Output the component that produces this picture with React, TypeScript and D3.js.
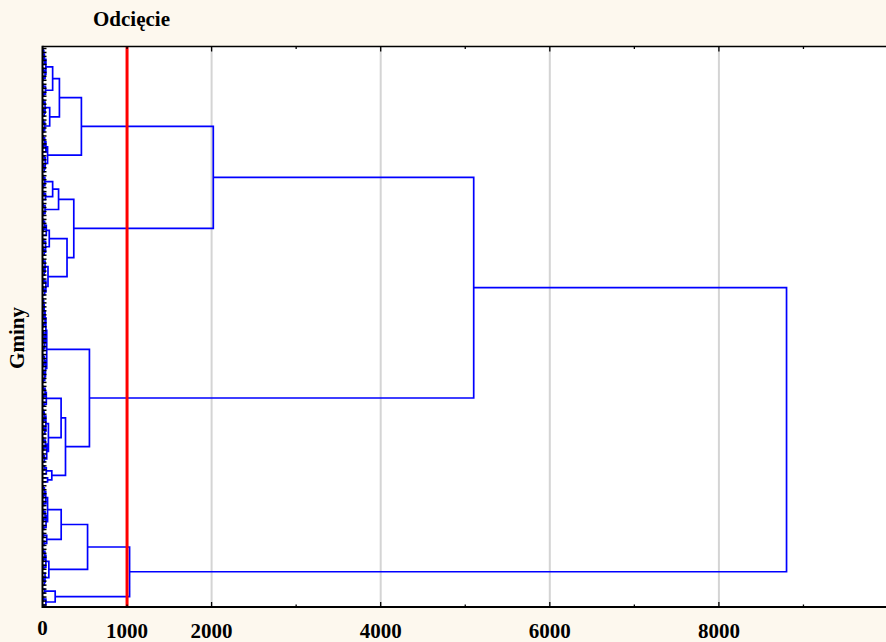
import * as d3 from 'd3';
import React from 'react';

const W = 886;
const H = 642;

// merge heights between neighbouring leaves inside each low-level group (top to bottom)
const g1 = [8, 15, 6, 22, 40, 12, 30, 9];
const g2 = [10, 35, 14];
const g3 = [12, 30, 7, 20, 85, 10, 26, 15];
const g4 = [9, 25, 14, 40, 60, 18, 32, 8, 20];
const b1a = [12, 28, 10];
const b1b = [15, 35];
const b2b = [8, 30, 12];
const c1 = [10, 24, 8, 45, 80, 14, 36, 9, 20];
const c2 = [7, 30, 12, 20, 65, 16, 40, 10, 25];
const d1 = [6, 14, 8, 20, 10, 30, 12, 40, 9, 18, 7, 25, 11];
const d2 = [8, 22, 10, 35, 12, 26, 9];
const p1 = [10, 30, 14, 45, 18];
const p2 = [9, 20, 12, 40, 15, 28, 70, 11, 33, 14, 50, 8, 22];
const q = [20, 45, 110, 60];
const e1 = [8, 22, 10, 38, 14, 60, 12, 30, 9, 42, 16];
const e2 = [12, 50, 18];
const e3 = [10, 28, 12, 40, 15, 75, 30, 8, 22];
const f1 = [25];
const f2 = [12, 40];

const groups = [g1, g2, g3, g4, b1a, b1b, b2b, c1, c2, d1, d2, p1, p2, q, e1, e2, e3, f1, f2];
// linkage distances where neighbouring groups join
const joins = [120, 200, 460, 2020, 120, 190, 370, 290, 5100, 50, 555, 220, 272, 8800, 221, 533, 1030, 150];

const majorTicks = [2000, 4000, 6000, 8000];
const minorTicks = [1000, 3000, 5000, 7000, 9000];
const tickLabels = [0, 1000, 2000, 4000, 6000, 8000];
const cutoff = 1000;
const title = 'Odcięcie';
const yTitle = 'Gminy';

type TNode = { h: number; i?: number; children?: TNode[] };

const gaps = groups.flatMap((g, j) => (j < joins.length ? [...g, joins[j]] : g));

function buildTree(gs: number[]): TNode {
  const build = (lo: number, hi: number): TNode => {
    if (lo === hi) return { h: 0, i: lo };
    let m = lo;
    for (let k = lo; k < hi; k++) if (gs[k] > gs[m]) m = k;
    return { h: gs[m], children: [build(lo, m), build(m + 1, hi)] };
  };
  return build(0, gs.length);
}

const font = "'Liberation Serif', 'Times New Roman', serif";

export default function App() {
  const left = 42.5, top = 46.5, bottom = 607;
  const x = d3.scaleLinear().domain([0, 10000]).range([left, 888]);

  const root = d3.hierarchy(buildTree(gaps));
  const leaves = root.leaves();
  const y = d3
    .scalePoint<number>()
    .domain(leaves.map((d) => d.data.i as number))
    .range([48.5, 605]);

  const pos = new Map<d3.HierarchyNode<TNode>, { x: number; y: number }>();
  root.eachAfter((n) => {
    const py = n.children
      ? (d3.mean(n.children, (c) => pos.get(c)!.y) as number)
      : (y(n.data.i as number) as number);
    pos.set(n, { x: x(n.data.h), y: py });
  });

  const p = d3.path();
  root.each((n) => {
    if (!n.children) return;
    const me = pos.get(n)!;
    const a = pos.get(n.children[0])!;
    const b = pos.get(n.children[1])!;
    p.moveTo(a.x, a.y);
    p.lineTo(me.x, a.y);
    p.lineTo(me.x, b.y);
    p.lineTo(b.x, b.y);
  });

  return (
    <svg
      width={W}
      height={H}
      style={{ position: 'absolute', left: 0, top: 0, display: 'block' }}
    >
      <rect width={W} height={H} fill="#fdf8ee" />
      <rect x={left} y={top} width={W - left} height={bottom - top} fill="#ffffff" />

      {majorTicks.map((t) => (
        <line key={'g' + t} x1={x(t)} x2={x(t)} y1={top} y2={bottom} stroke="#d4d4d4" strokeWidth={2} />
      ))}

      <path d={p.toString()} fill="none" stroke="#0000ff" strokeWidth={1.7} />

      <line x1={x(cutoff)} x2={x(cutoff)} y1={top} y2={bottom} stroke="#ff0000" strokeWidth={3} />

      {leaves.map((l) => (
        <line key={'l' + l.data.i} x1={left} x2={left + 4} y1={pos.get(l)!.y} y2={pos.get(l)!.y} stroke="#000" strokeWidth={1.5} />
      ))}

      {majorTicks.map((t) => (
        <g key={'mt' + t}>
          <line x1={x(t)} x2={x(t)} y1={top} y2={top + 5} stroke="#000" strokeWidth={1.3} />
          <line x1={x(t)} x2={x(t)} y1={bottom} y2={bottom - 5} stroke="#000" strokeWidth={1.3} />
        </g>
      ))}
      {minorTicks.map((t) => (
        <g key={'nt' + t}>
          <line x1={x(t)} x2={x(t)} y1={top} y2={top + 2.5} stroke="#000" strokeWidth={1.3} />
          <line x1={x(t)} x2={x(t)} y1={bottom} y2={bottom - 2.5} stroke="#000" strokeWidth={1.3} />
        </g>
      ))}

      <line x1={left} x2={W} y1={top} y2={top} stroke="#000" strokeWidth={1.5} />
      <line x1={left} x2={W} y1={bottom} y2={bottom} stroke="#000" strokeWidth={2} />
      <line x1={left} x2={left} y1={top - 0.75} y2={bottom + 1} stroke="#000" strokeWidth={2} />

      {tickLabels.map((t) => (
        <text
          key={'tl' + t}
          x={x(t)}
          y={t === 0 ? 635 : 638}
          textAnchor="middle"
          fontFamily={font}
          fontWeight="bold"
          fontSize={21}
          fill="#000"
        >
          {t}
        </text>
      ))}

      <text x={131.5} y={26} textAnchor="middle" fontFamily={font} fontWeight="bold" fontSize={21} fill="#000">
        {title}
      </text>
      <text
        transform="translate(24,338) rotate(-90)"
        textAnchor="middle"
        fontFamily={font}
        fontWeight="bold"
        fontSize={21}
        fill="#000"
      >
        {yTitle}
      </text>
    </svg>
  );
}
